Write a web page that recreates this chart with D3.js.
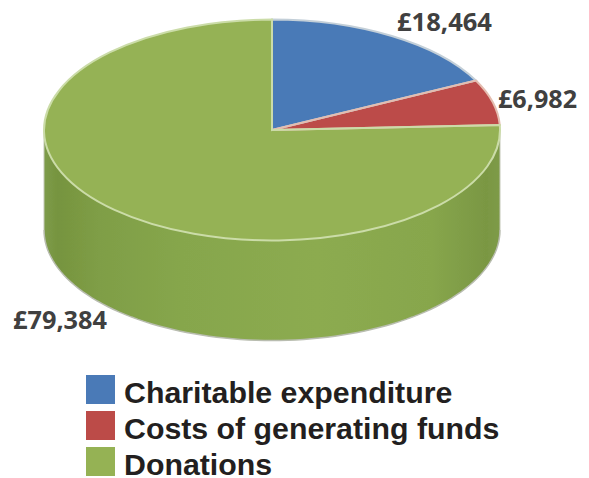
<!DOCTYPE html>
<html><head><meta charset="utf-8">
<script src="https://cdn.jsdelivr.net/npm/d3@7"></script>
<style>html,body{margin:0;padding:0;background:#fff}svg{display:block}</style>
</head><body><svg id="c" width="589" height="478"></svg>
<script>
const categories = ["Charitable expenditure","Costs of generating funds","Donations"];
const values = [18464,6982,79384];
const valueLabels = ["£18,464","£6,982","£79,384"];
const colors = ["#4a7ab7","#bc4b48","#95b254"];

const cx=272,cy=130,rx=228,ry=110.5,depth=100;
const svg=d3.select("#c");
const defs=svg.append("defs");
const g=defs.append("linearGradient").attr("id","side").attr("gradientUnits","userSpaceOnUse")
  .attr("x1",cx-rx).attr("x2",cx+rx).attr("y1",0).attr("y2",0);
[[0,"#7e9c4a"],[0.03,"#76943f"],[0.12,"#7f9e46"],[0.3,"#86a64c"],[0.6,"#8cab50"],[0.85,"#87a64c"],[0.97,"#7a9743"],[1,"#7e9b48"]]
  .forEach(([o,c])=>g.append("stop").attr("offset",o).attr("stop-color",c));
const f=defs.append("filter").attr("id","soft").attr("x","-5%").attr("y","-5%").attr("width","110%").attr("height","110%");
f.append("feGaussianBlur").attr("stdDeviation",0.6);

const pie=d3.pie().value(d=>d).sort(null);
const arcs=pie(values);
const pt=a=>[cx+rx*Math.sin(a),cy-ry*Math.cos(a)];

const root=svg.append("g").attr("filter","url(#soft)");
const front=d3.range(Math.PI/2,3*Math.PI/2+0.001,Math.PI/90);
const wall=d3.area().x(a=>pt(a)[0]).y0(a=>pt(a)[1]).y1(a=>pt(a)[1]+depth);
root.append("path").attr("d",wall(front)).attr("fill","url(#side)");
const lower=d3.line().x(a=>pt(a)[0]).y(a=>pt(a)[1]+depth);
root.append("path").attr("d",lower(front)).attr("fill","none").attr("stroke","#b9bdb0").attr("stroke-width",1.5);
[front[0],front[front.length-1]].forEach(a=>{
  root.append("line").attr("x1",pt(a)[0]).attr("x2",pt(a)[0]).attr("y1",pt(a)[1]).attr("y2",pt(a)[1]+depth)
    .attr("stroke","#c4c8b8").attr("stroke-width",1);
});
const arc=d3.arc().innerRadius(0).outerRadius(rx);
const face=root.append("g").attr("transform",`translate(${cx},${cy}) scale(1,${ry/rx})`);
face.selectAll("path.fill").data(arcs).join("path").attr("class","fill").attr("d",arc).attr("fill",(d,i)=>colors[i]);
face.selectAll("path.edge").data(arcs).join("path").attr("class","edge").attr("d",arc)
  .attr("fill","none").attr("stroke",(d,i)=>["#c3cfd8","#e4bdb0","#cbdca8"][i]).attr("stroke-width",2)
  .attr("vector-effect","non-scaling-stroke");

const labelPos=[[397,31],[498,108],[13,329]];
svg.selectAll("text.v").data(valueLabels).join("text").attr("class","v")
  .attr("x",(d,i)=>labelPos[i][0]).attr("y",(d,i)=>labelPos[i][1]).text(d=>d)
  .attr("font-family","'Open Sans'").attr("font-weight",700).attr("font-size",24.5)
  .attr("textLength",(d,i)=>[95,79,94][i]).attr("lengthAdjust","spacingAndGlyphs").attr("fill","#404040");

const ly=d3.scalePoint().domain(categories).range([375,447]);
const lg=svg.selectAll("g.l").data(categories).join("g").attr("class","l");
lg.append("rect").attr("x",86).attr("y",d=>ly(d)).attr("width",29).attr("height",29).attr("fill",(d,i)=>colors[i]);
lg.append("text").attr("x",124).attr("y",d=>ly(d)+28).text(d=>d)
  .attr("font-family","'Liberation Sans'").attr("font-weight",700).attr("font-size",30.3)
  .attr("fill","#231f20");
</script></body></html>
